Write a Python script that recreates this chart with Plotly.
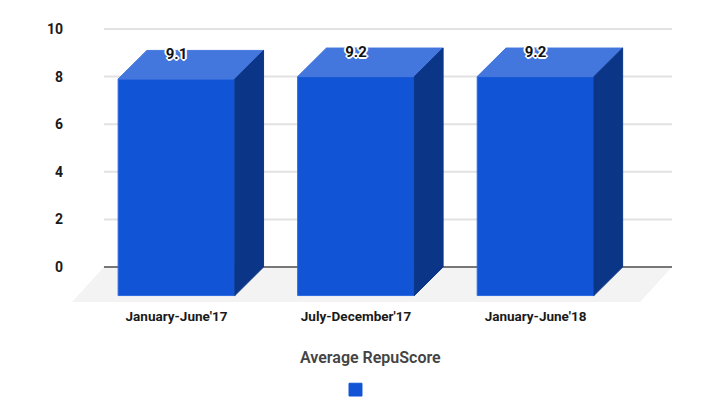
import plotly.graph_objects as go

categories = ["January-June'17", "July-December'17", "January-June'18"]
values = [9.1, 9.2, 9.2]
y_ticks = [0, 2, 4, 6, 8, 10]
legend_title = "Average RepuScore"

positions = list(range(len(categories)))

FRONT = "#1155D6"
TOP = "#4477DD"
SIDE = "#0B3688"
BAR_WIDTH = 0.65
DEPTH_X = 0.16
DEPTH_Y = 1.2

fig = go.Figure()

# front faces, base sits one depth below the zero line
fig.add_trace(go.Bar(
	x=positions,
	y=values,
	base=-DEPTH_Y,
	width=BAR_WIDTH,
	marker=dict(color=FRONT, line=dict(color="#2A68E0", width=1)),
	showlegend=False,
	hoverinfo="skip"
))

for pos, value in zip(positions, values):
	left = pos - BAR_WIDTH/2
	right = pos + BAR_WIDTH/2

	# top face
	fig.add_trace(go.Scatter(
		x=[left, left+DEPTH_X, right+DEPTH_X, right, left],
		y=[value-DEPTH_Y, value, value, value-DEPTH_Y, value-DEPTH_Y],
		mode="lines",
		fill="toself",
		fillcolor=TOP,
		line=dict(color=TOP, width=1),
		showlegend=False,
		hoverinfo="skip"
	))

	# side face
	fig.add_trace(go.Scatter(
		x=[right, right+DEPTH_X, right+DEPTH_X, right, right],
		y=[value-DEPTH_Y, value, 0, -DEPTH_Y, value-DEPTH_Y],
		mode="lines",
		fill="toself",
		fillcolor=SIDE,
		line=dict(color=SIDE, width=1),
		showlegend=False,
		hoverinfo="skip"
	))

fig.add_trace(go.Scatter(
	x=positions,
	y=[v-0.2 for v in values],
	text=[str(v) for v in values],
	mode="text",
	textposition="middle center",
	textfont=dict(
		family="Roboto", size=15, color="#111111", weight="bold",
		shadow="2px 0 0 #fff, -2px 0 0 #fff, 0 2px 0 #fff, 0 -2px 0 #fff, 1px 1px 0 #fff, -1px -1px 0 #fff, 1px -1px 0 #fff, -1px 1px 0 #fff"
	),
	showlegend=False,
	hoverinfo="skip"
))

# floor and gridlines go under the bars
fig.add_shape(
	type="path",
	path="M -0.582 -1.47 L 2.582 -1.47 L 2.76 0 L -0.404 0 Z",
	fillcolor="#F3F3F3",
	line=dict(width=0),
	layer="below"
)
for tick in y_ticks:
	fig.add_shape(
		type="line",
		x0=-0.404, x1=2.76,
		y0=tick, y1=tick,
		line=dict(color="#777777" if tick == 0 else "#E2E2E2", width=2),
		layer="below"
	)

# legend key
fig.add_shape(
	type="rect",
	xref="paper", yref="paper",
	x0=0.4617, x1=0.4833,
	y0=-0.324, y1=-0.279,
	fillcolor=FRONT,
	line=dict(color=FRONT, width=1)
)
fig.add_annotation(
	xref="paper", yref="paper",
	x=0.498, y=-0.229,
	text=legend_title,
	showarrow=False,
	font=dict(family="Roboto", size=16, color="#444444", weight=600)
)

# the page body adds 8px on the top and left
fig.update_layout(
	width=702,
	height=409,
	margin=dict(l=64, r=38, t=12, b=113),
	paper_bgcolor="white",
	plot_bgcolor="rgba(0,0,0,0)",
	showlegend=False,
	xaxis=dict(
		range=[-0.582, 2.76],
		tickmode="array",
		tickvals=positions,
		ticktext=categories,
		tickfont=dict(family="Roboto", size=13.5, color="#1A1A1A", weight="bold"),
		showgrid=False,
		zeroline=False,
		showline=False,
		ticks="",
		ticklabelstandoff=2
	),
	yaxis=dict(
		range=[-1.555, 10.378],
		tickmode="array",
		tickvals=y_ticks,
		tickfont=dict(family="Roboto", size=14, color="#1A1A1A", weight="bold"),
		showgrid=False,
		zeroline=False,
		showline=False,
		ticks="",
		ticklabelstandoff=8
	)
)

fig.write_html("out.html")
